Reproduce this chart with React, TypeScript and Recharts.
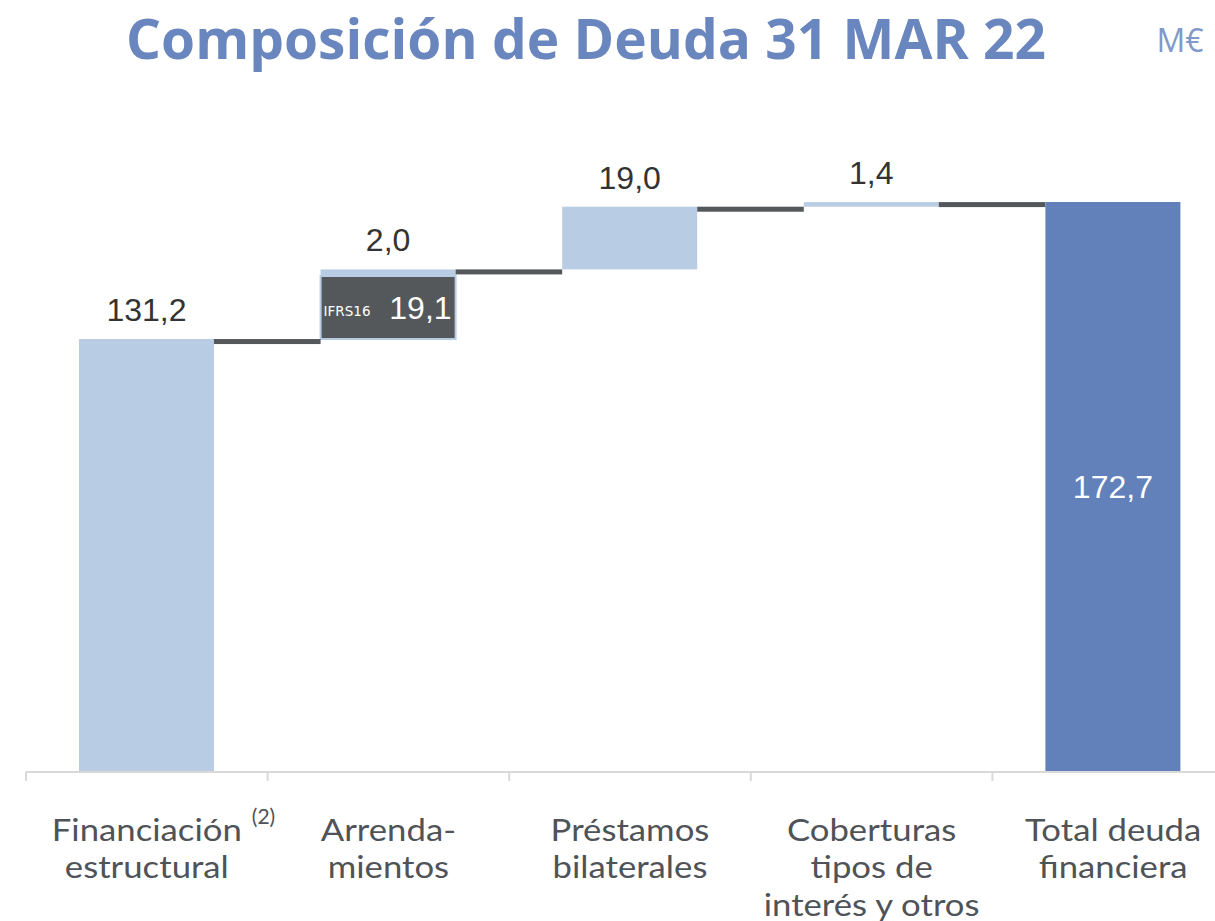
import { BarChart, Bar, XAxis, YAxis, LabelList } from 'recharts';

const categories = [
  ['Financiación', 'estructural'],
  ['Arrenda-', 'mientos'],
  ['Préstamos', 'bilaterales'],
  ['Coberturas', 'tipos de', 'interés y otros'],
  ['Total deuda', 'financiera'],
];
const stepValues = [131.2, 2.0, 19.0, 1.4, 0];
const ifrs16Values = [0, 19.1, 0, 0, 0];
const totalValues = [0, 0, 0, 0, 172.7];

const LIGHT = '#b8cce4';
const DARK = '#54585a';
const TOTAL = '#6280b9';
const TEXT = '#4f5357';
const FONT = '"Open Sans", "DejaVu Sans", sans-serif';
const CAT_FONT = 'Lato, "Open Sans", sans-serif';
const NUM_FONT = '"Liberation Sans", Arial, sans-serif';

const CHART_W = 1240;
const MARGIN = { top: 112, right: 6, left: 26, bottom: 119 };
const BAND = (CHART_W - MARGIN.left - MARGIN.right) / categories.length;

// invisible base for the floating steps = running total before each step
let running = 0;
const data = categories.map((lines, i) => {
  const base = i === categories.length - 1 ? 0 : running;
  running += stepValues[i] + ifrs16Values[i];
  return {
    name: lines.join(' '),
    base,
    ifrs16: ifrs16Values[i],
    step: stepValues[i],
    total: totalValues[i],
  };
});

const fmt = (v: number) => v.toFixed(1).replace('.', ',');

const StepShape = (props: any) => {
  const { x, y, width, height, index } = props;
  if (!height) return null;
  return (
    <g>
      <rect x={x} y={y} width={width} height={height} fill={LIGHT} />
      {index < categories.length - 1 && (
        <rect x={x + width} y={y} width={BAND - width} height={5} fill={DARK} />
      )}
    </g>
  );
};

const IfrsShape = (props: any) => {
  const { x, y, width, height } = props;
  if (!height) return null;
  return (
    <rect x={x} y={y} width={width} height={height} fill={DARK} stroke={LIGHT} strokeWidth={2} />
  );
};

const StepLabel = (props: any) => {
  const { x, y, width, value } = props;
  if (!value) return null;
  return (
    <text x={x + width / 2} y={y - 18} textAnchor="middle" fontSize={32} fill="#333" fontFamily={NUM_FONT}>
      {fmt(value)}
    </text>
  );
};

const IfrsLabel = (props: any) => {
  const { x, y, width, height, value } = props;
  if (!value) return null;
  const cy = y + height / 2;
  return (
    <g fill="#fff">
      <text x={x + 3} y={cy + 8} fontSize={13.5} fontFamily='"DejaVu Sans", sans-serif'>IFRS16</text>
      <text x={x + width - 4} y={cy + 11} fontSize={32} textAnchor="end" fontFamily={NUM_FONT}>{fmt(value)}</text>
    </g>
  );
};

const TotalLabel = (props: any) => {
  const { x, y, width, height, value } = props;
  if (!value) return null;
  return (
    <text x={x + width / 2} y={y + height / 2 + 11} textAnchor="middle" fontSize={32} fill="#fff" fontFamily={NUM_FONT}>
      {fmt(value)}
    </text>
  );
};

const CategoryTick = (props: any) => {
  const { x, y, payload } = props;
  const lines = categories[payload.index];
  const left = x - BAND / 2;
  return (
    <g>
      <line x1={left} x2={left} y1={y} y2={y + 9} stroke="#d9d9d9" strokeWidth={2} />
      {/* category font in the source is a bit wider than Lato: stretch horizontally */}
      <g transform={`translate(${x},0) scale(1.12,1)`}>
        {lines.map((line, i) => (
          <text key={i} x={0} y={y + 69 + i * 37.5} textAnchor="middle" fontSize={31} fill={TEXT} fontFamily={CAT_FONT}>
            {line}
          </text>
        ))}
      </g>
      {payload.index === 0 && (
        <text x={x + 105} y={y + 52} fontSize={21} fill={TEXT} fontFamily={CAT_FONT}>(2)</text>
      )}
    </g>
  );
};

export default function App() {
  return (
    <div style={{ position: 'absolute', left: 0, top: 0, width: 1215, height: 921, overflow: 'hidden', background: '#fff' }}>
      <svg width={1215} height={100} style={{ position: 'absolute', left: 0, top: 0 }}>
        <text x={586} y={59} textAnchor="middle" fontSize={56} fontWeight="bold" fill="#6a86bf"
          fontFamily={FONT} textLength={920} lengthAdjust="spacingAndGlyphs">
          Composición de Deuda 31 MAR 22
        </text>
        <text x={1180} y={52} textAnchor="middle" fontSize={32} fill="#8099cb" fontFamily={FONT}>M€</text>
      </svg>
      <div style={{ position: 'absolute', left: 0, top: 0 }}>
        <BarChart width={CHART_W} height={921} data={data} margin={MARGIN} barSize={135}>
          <XAxis
            dataKey="name"
            interval={0}
            tickLine={false}
            tickSize={0}
            tickMargin={0}
            axisLine={{ stroke: '#d9d9d9', strokeWidth: 2 }}
            tick={<CategoryTick />}
            height={30}
          />
          <YAxis hide domain={[0, 200]} />
          <Bar dataKey="base" stackId="w" fill="transparent" isAnimationActive={false} />
          <Bar dataKey="ifrs16" stackId="w" shape={<IfrsShape />} isAnimationActive={false}>
            <LabelList dataKey="ifrs16" content={<IfrsLabel />} />
          </Bar>
          <Bar dataKey="step" stackId="w" shape={<StepShape />} isAnimationActive={false}>
            <LabelList dataKey="step" content={<StepLabel />} />
          </Bar>
          <Bar dataKey="total" stackId="w" fill={TOTAL} isAnimationActive={false}>
            <LabelList dataKey="total" content={<TotalLabel />} />
          </Bar>
        </BarChart>
      </div>
    </div>
  );
}
